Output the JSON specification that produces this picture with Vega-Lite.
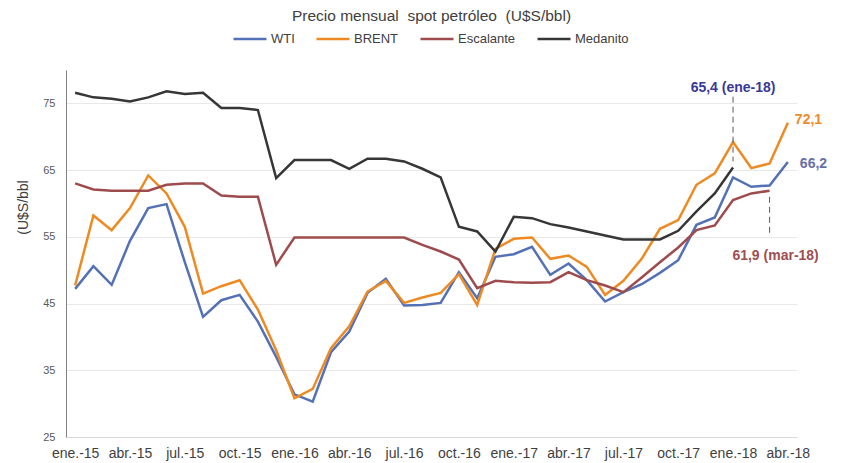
{
  "$schema": "https://vega.github.io/schema/vega-lite/v6.json",
  "width": 731,
  "height": 367,
  "autosize": "none",
  "padding": {"left": 66, "top": 70, "right": 48, "bottom": 26},
  "background": "white",
  "title": {"text": "Precio mensual\u00a0 spot petróleo\u00a0 (U$S/bbl)", "font": "Liberation Sans", "fontSize": 15.5, "fontWeight": "normal", "color": "#404040", "anchor": "middle", "frame": "group", "offset": -3},
  "config": {
    "view": {"stroke": null},
    "font": "Liberation Sans",
    "legend": {"labelFont": "Liberation Sans"}
  },
  "datasets": {
    "precios": [
      {"mes":"ene.-15","serie":"WTI","valor":47.2},{"mes":"feb.-15","serie":"WTI","valor":50.6},{"mes":"mar.-15","serie":"WTI","valor":47.8},{"mes":"abr.-15","serie":"WTI","valor":54.4},{"mes":"may.-15","serie":"WTI","valor":59.3},{"mes":"jun.-15","serie":"WTI","valor":59.9},{"mes":"jul.-15","serie":"WTI","valor":51.2},{"mes":"ago.-15","serie":"WTI","valor":43.0},{"mes":"sep.-15","serie":"WTI","valor":45.5},{"mes":"oct.-15","serie":"WTI","valor":46.3},{"mes":"nov.-15","serie":"WTI","valor":42.3},{"mes":"dic.-15","serie":"WTI","valor":37.0},
      {"mes":"ene.-16","serie":"WTI","valor":31.4},{"mes":"feb.-16","serie":"WTI","valor":30.3},{"mes":"mar.-16","serie":"WTI","valor":37.7},{"mes":"abr.-16","serie":"WTI","valor":40.8},{"mes":"may.-16","serie":"WTI","valor":46.6},{"mes":"jun.-16","serie":"WTI","valor":48.7},{"mes":"jul.-16","serie":"WTI","valor":44.7},{"mes":"ago.-16","serie":"WTI","valor":44.8},{"mes":"sep.-16","serie":"WTI","valor":45.1},{"mes":"oct.-16","serie":"WTI","valor":49.7},{"mes":"nov.-16","serie":"WTI","valor":45.8},{"mes":"dic.-16","serie":"WTI","valor":52.0},
      {"mes":"ene.-17","serie":"WTI","valor":52.4},{"mes":"feb.-17","serie":"WTI","valor":53.5},{"mes":"mar.-17","serie":"WTI","valor":49.3},{"mes":"abr.-17","serie":"WTI","valor":51.0},{"mes":"may.-17","serie":"WTI","valor":48.5},{"mes":"jun.-17","serie":"WTI","valor":45.3},{"mes":"jul.-17","serie":"WTI","valor":46.7},{"mes":"ago.-17","serie":"WTI","valor":47.9},{"mes":"sep.-17","serie":"WTI","valor":49.6},{"mes":"oct.-17","serie":"WTI","valor":51.5},{"mes":"nov.-17","serie":"WTI","valor":56.8},{"mes":"dic.-17","serie":"WTI","valor":57.9},
      {"mes":"ene.-18","serie":"WTI","valor":63.9},{"mes":"feb.-18","serie":"WTI","valor":62.5},{"mes":"mar.-18","serie":"WTI","valor":62.7},{"mes":"abr.-18","serie":"WTI","valor":66.2},

      {"mes":"ene.-15","serie":"BRENT","valor":47.7},{"mes":"feb.-15","serie":"BRENT","valor":58.2},{"mes":"mar.-15","serie":"BRENT","valor":56.0},{"mes":"abr.-15","serie":"BRENT","valor":59.3},{"mes":"may.-15","serie":"BRENT","valor":64.2},{"mes":"jun.-15","serie":"BRENT","valor":61.5},{"mes":"jul.-15","serie":"BRENT","valor":56.5},{"mes":"ago.-15","serie":"BRENT","valor":46.5},{"mes":"sep.-15","serie":"BRENT","valor":47.6},{"mes":"oct.-15","serie":"BRENT","valor":48.5},{"mes":"nov.-15","serie":"BRENT","valor":44.1},{"mes":"dic.-15","serie":"BRENT","valor":38.0},
      {"mes":"ene.-16","serie":"BRENT","valor":30.8},{"mes":"feb.-16","serie":"BRENT","valor":32.2},{"mes":"mar.-16","serie":"BRENT","valor":38.3},{"mes":"abr.-16","serie":"BRENT","valor":41.6},{"mes":"may.-16","serie":"BRENT","valor":46.8},{"mes":"jun.-16","serie":"BRENT","valor":48.4},{"mes":"jul.-16","serie":"BRENT","valor":45.1},{"mes":"ago.-16","serie":"BRENT","valor":45.9},{"mes":"sep.-16","serie":"BRENT","valor":46.6},{"mes":"oct.-16","serie":"BRENT","valor":49.4},{"mes":"nov.-16","serie":"BRENT","valor":44.8},{"mes":"dic.-16","serie":"BRENT","valor":53.2},
      {"mes":"ene.-17","serie":"BRENT","valor":54.7},{"mes":"feb.-17","serie":"BRENT","valor":54.9},{"mes":"mar.-17","serie":"BRENT","valor":51.7},{"mes":"abr.-17","serie":"BRENT","valor":52.2},{"mes":"may.-17","serie":"BRENT","valor":50.5},{"mes":"jun.-17","serie":"BRENT","valor":46.3},{"mes":"jul.-17","serie":"BRENT","valor":48.4},{"mes":"ago.-17","serie":"BRENT","valor":51.7},{"mes":"sep.-17","serie":"BRENT","valor":56.2},{"mes":"oct.-17","serie":"BRENT","valor":57.5},{"mes":"nov.-17","serie":"BRENT","valor":62.8},{"mes":"dic.-17","serie":"BRENT","valor":64.5},
      {"mes":"ene.-18","serie":"BRENT","valor":69.2},{"mes":"feb.-18","serie":"BRENT","valor":65.3},{"mes":"mar.-18","serie":"BRENT","valor":66.0},{"mes":"abr.-18","serie":"BRENT","valor":72.1},

      {"mes":"ene.-15","serie":"Escalante","valor":63.0},{"mes":"feb.-15","serie":"Escalante","valor":62.1},{"mes":"mar.-15","serie":"Escalante","valor":61.9},{"mes":"abr.-15","serie":"Escalante","valor":61.9},{"mes":"may.-15","serie":"Escalante","valor":61.9},{"mes":"jun.-15","serie":"Escalante","valor":62.8},{"mes":"jul.-15","serie":"Escalante","valor":63.0},{"mes":"ago.-15","serie":"Escalante","valor":63.0},{"mes":"sep.-15","serie":"Escalante","valor":61.2},{"mes":"oct.-15","serie":"Escalante","valor":61.0},{"mes":"nov.-15","serie":"Escalante","valor":61.0},{"mes":"dic.-15","serie":"Escalante","valor":50.8},
      {"mes":"ene.-16","serie":"Escalante","valor":54.9},{"mes":"feb.-16","serie":"Escalante","valor":54.9},{"mes":"mar.-16","serie":"Escalante","valor":54.9},{"mes":"abr.-16","serie":"Escalante","valor":54.9},{"mes":"may.-16","serie":"Escalante","valor":54.9},{"mes":"jun.-16","serie":"Escalante","valor":54.9},{"mes":"jul.-16","serie":"Escalante","valor":54.9},{"mes":"ago.-16","serie":"Escalante","valor":53.8},{"mes":"sep.-16","serie":"Escalante","valor":52.8},{"mes":"oct.-16","serie":"Escalante","valor":51.6},{"mes":"nov.-16","serie":"Escalante","valor":47.3},{"mes":"dic.-16","serie":"Escalante","valor":48.4},
      {"mes":"ene.-17","serie":"Escalante","valor":48.2},{"mes":"feb.-17","serie":"Escalante","valor":48.1},{"mes":"mar.-17","serie":"Escalante","valor":48.2},{"mes":"abr.-17","serie":"Escalante","valor":49.7},{"mes":"may.-17","serie":"Escalante","valor":48.5},{"mes":"jun.-17","serie":"Escalante","valor":47.7},{"mes":"jul.-17","serie":"Escalante","valor":46.7},{"mes":"ago.-17","serie":"Escalante","valor":48.9},{"mes":"sep.-17","serie":"Escalante","valor":51.2},{"mes":"oct.-17","serie":"Escalante","valor":53.4},{"mes":"nov.-17","serie":"Escalante","valor":56.0},{"mes":"dic.-17","serie":"Escalante","valor":56.7},
      {"mes":"ene.-18","serie":"Escalante","valor":60.5},{"mes":"feb.-18","serie":"Escalante","valor":61.5},{"mes":"mar.-18","serie":"Escalante","valor":61.9},

      {"mes":"ene.-15","serie":"Medanito","valor":76.6},{"mes":"feb.-15","serie":"Medanito","valor":75.9},{"mes":"mar.-15","serie":"Medanito","valor":75.7},{"mes":"abr.-15","serie":"Medanito","valor":75.3},{"mes":"may.-15","serie":"Medanito","valor":75.9},{"mes":"jun.-15","serie":"Medanito","valor":76.8},{"mes":"jul.-15","serie":"Medanito","valor":76.4},{"mes":"ago.-15","serie":"Medanito","valor":76.6},{"mes":"sep.-15","serie":"Medanito","valor":74.3},{"mes":"oct.-15","serie":"Medanito","valor":74.3},{"mes":"nov.-15","serie":"Medanito","valor":74.0},{"mes":"dic.-15","serie":"Medanito","valor":63.8},
      {"mes":"ene.-16","serie":"Medanito","valor":66.5},{"mes":"feb.-16","serie":"Medanito","valor":66.5},{"mes":"mar.-16","serie":"Medanito","valor":66.5},{"mes":"abr.-16","serie":"Medanito","valor":65.2},{"mes":"may.-16","serie":"Medanito","valor":66.7},{"mes":"jun.-16","serie":"Medanito","valor":66.7},{"mes":"jul.-16","serie":"Medanito","valor":66.3},{"mes":"ago.-16","serie":"Medanito","valor":65.2},{"mes":"sep.-16","serie":"Medanito","valor":63.9},{"mes":"oct.-16","serie":"Medanito","valor":56.5},{"mes":"nov.-16","serie":"Medanito","valor":55.8},{"mes":"dic.-16","serie":"Medanito","valor":52.8},
      {"mes":"ene.-17","serie":"Medanito","valor":58.0},{"mes":"feb.-17","serie":"Medanito","valor":57.8},{"mes":"mar.-17","serie":"Medanito","valor":56.9},{"mes":"abr.-17","serie":"Medanito","valor":56.4},{"mes":"may.-17","serie":"Medanito","valor":55.8},{"mes":"jun.-17","serie":"Medanito","valor":55.2},{"mes":"jul.-17","serie":"Medanito","valor":54.6},{"mes":"ago.-17","serie":"Medanito","valor":54.6},{"mes":"sep.-17","serie":"Medanito","valor":54.6},{"mes":"oct.-17","serie":"Medanito","valor":55.9},{"mes":"nov.-17","serie":"Medanito","valor":58.8},{"mes":"dic.-17","serie":"Medanito","valor":61.5},
      {"mes":"ene.-18","serie":"Medanito","valor":65.4}
    ],
    "guias": [
      {"mes":"ene.-18","desde":76.0,"hasta":66.3},
      {"mes":"mar.-18","desde":61.0,"hasta":55.4}
    ],
    "notas": [
      {"mes":"ene.-18","serie":"Medanito","valor":65.4,"texto":"65,4 (ene-18)"},
      {"mes":"abr.-18","serie":"BRENT","valor":72.1,"texto":"72,1"},
      {"mes":"abr.-18","serie":"WTI","valor":66.2,"texto":"66,2"},
      {"mes":"mar.-18","serie":"Escalante","valor":61.9,"texto":"61,9 (mar-18)"}
    ]
  },
  "encoding": {
    "x": {
      "field": "mes", "type": "ordinal",
      "scale": {"type": "point", "padding": 0.5, "domain": ["ene.-15","feb.-15","mar.-15","abr.-15","may.-15","jun.-15","jul.-15","ago.-15","sep.-15","oct.-15","nov.-15","dic.-15","ene.-16","feb.-16","mar.-16","abr.-16","may.-16","jun.-16","jul.-16","ago.-16","sep.-16","oct.-16","nov.-16","dic.-16","ene.-17","feb.-17","mar.-17","abr.-17","may.-17","jun.-17","jul.-17","ago.-17","sep.-17","oct.-17","nov.-17","dic.-17","ene.-18","feb.-18","mar.-18","abr.-18"]},
      "axis": {"title": null, "values": ["ene.-15","abr.-15","jul.-15","oct.-15","ene.-16","abr.-16","jul.-16","oct.-16","ene.-17","abr.-17","jul.-17","oct.-17","ene.-18","abr.-18"], "labelAngle": 0, "ticks": false, "grid": false, "domainColor": "#d9d9d9", "domainWidth": 1, "labelFont": "Liberation Sans", "labelFontSize": 14, "labelColor": "#404040", "labelPadding": 9}
    },
    "y": {
      "field": "valor", "type": "quantitative",
      "scale": {"domain": [25, 80], "nice": false, "zero": false},
      "axis": {"values": [25,35,45,55,65,75], "grid": true, "gridColor": "#e8e8e8", "ticks": false, "domainColor": "#808080", "domainWidth": 1, "labelFont": "Liberation Sans", "labelFontSize": 11, "labelColor": "#595959", "labelPadding": 11, "title": "(U$S/bbl", "titleFont": "Liberation Sans", "titleFontSize": 14, "titleFontWeight": "normal", "titleColor": "#404040", "titleX": -36, "titleY": 137}
    }
  },
  "layer": [
    {
      "data": {"name": "precios"},
      "mark": {"type": "line", "strokeWidth": 2.5},
      "encoding": {
        "color": {
          "field": "serie", "type": "nominal",
          "scale": {"domain": ["WTI","BRENT","Escalante","Medanito"], "range": ["#5470b6","#ee8a22","#9e4b4d","#363636"]},
          "legend": {"title": null, "orient": "none", "direction": "horizontal", "legendX": 166, "legendY": -49, "symbolType": "stroke", "symbolSize": 1089, "symbolStrokeWidth": 2.5, "labelFontSize": 13, "labelColor": "#404040", "labelOffset": 3, "columnPadding": 16}
        }
      }
    },
    {
      "data": {"name": "guias"},
      "mark": {"type": "rule", "strokeDash": [6, 4], "color": "#595959", "strokeWidth": 1},
      "encoding": {
        "y": {"field": "desde", "type": "quantitative"},
        "y2": {"field": "hasta"}
      }
    },
    {
      "data": {"name": "notas"},
      "transform": [{"filter": "datum.serie === 'Medanito'"}],
      "mark": {"type": "text", "font": "Liberation Sans", "fontSize": 14, "fontWeight": "bold", "color": "#38389a", "align": "center", "baseline": "middle", "dy": -79},
      "encoding": {"text": {"field": "texto"}}
    },
    {
      "data": {"name": "notas"},
      "transform": [{"filter": "datum.serie === 'BRENT'"}],
      "mark": {"type": "text", "font": "Liberation Sans", "fontSize": 14, "fontWeight": "bold", "color": "#ef8a2a", "align": "left", "baseline": "middle", "dx": 7, "dy": -3},
      "encoding": {"text": {"field": "texto"}}
    },
    {
      "data": {"name": "notas"},
      "transform": [{"filter": "datum.serie === 'WTI'"}],
      "mark": {"type": "text", "font": "Liberation Sans", "fontSize": 14, "fontWeight": "bold", "color": "#6a6ea6", "align": "left", "baseline": "middle", "dx": 12, "dy": 2},
      "encoding": {"text": {"field": "texto"}}
    },
    {
      "data": {"name": "notas"},
      "transform": [{"filter": "datum.serie === 'Escalante'"}],
      "mark": {"type": "text", "font": "Liberation Sans", "fontSize": 14, "fontWeight": "bold", "color": "#a04e50", "align": "center", "baseline": "middle", "dx": 6, "dy": 65},
      "encoding": {"text": {"field": "texto"}}
    }
  ]
}
